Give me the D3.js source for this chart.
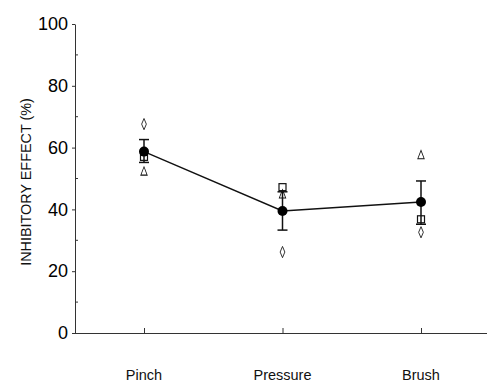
<!DOCTYPE html>
<html>
<head>
<meta charset="utf-8">
<script src="https://cdn.jsdelivr.net/npm/d3@7"></script>
<style>
  body { margin: 0; background: #fff; }
  svg { display: block; font-family: "Liberation Sans", Arial, sans-serif; }
</style>
</head>
<body>
<div id="chart"></div>
<script>
    var w = 487;
    var h = 382;

    var categories = ['Pinch', 'Pressure', 'Brush'];
    var means = [58.7, 39.5, 42.4];
    var errLow = [55.2, 33.3, 35.2];
    var errHigh = [62.6, 45.7, 49.2];
    var squares = [57.0, 47.2, 36.8];
    var triangles = [52.0, 44.6, 57.3];
    var diamonds = [67.6, 26.2, 32.6];
    var yTicks = [0, 20, 40, 60, 80, 100];
    var yMinor = [10, 30, 50, 70, 90];

    var x = d3.scalePoint()
              .domain(categories)
              .range([144, 421]);
    var y = d3.scaleLinear()
              .domain([0, 100])
              .range([333, 24]);

    var svg = d3.select('#chart').append('svg')
                .attr('width', w)
                .attr('height', h);

    // y axis: major ticks stick out left, minor ticks inside
    var yAxis = d3.axisLeft(y)
                  .tickValues(yTicks)
                  .tickSizeInner(3)
                  .tickSizeOuter(0)
                  .tickPadding(4);
    var gy = svg.append('g')
        .attr('transform', 'translate(75,0)')
        .call(yAxis);
    gy.select('.domain').attr('stroke', '#333');
    gy.selectAll('.tick line').attr('stroke', '#333');
    gy.selectAll('.tick text')
        .attr('font-size', 18)
        .attr('fill', '#000');
    gy.selectAll('.minor')
        .data(yMinor)
        .enter().append('line')
        .attr('class', 'minor')
        .attr('x1', 0).attr('x2', 3)
        .attr('y1', function(d){ return y(d); })
        .attr('y2', function(d){ return y(d); })
        .attr('stroke', '#333');

    // x axis
    var xAxis = d3.axisTop(x)
                  .tickSizeInner(5)
                  .tickSizeOuter(0)
                  .tickFormat('');
    var gx = svg.append('g')
        .attr('transform', 'translate(0,' + y(0) + ')')
        .call(xAxis);
    gx.select('.domain').attr('d', 'M75,0.5H487').attr('stroke', '#333');
    gx.selectAll('.tick line').attr('stroke', '#333');

    svg.selectAll('.xlab')
        .data(categories)
        .enter().append('text')
        .attr('class', 'xlab')
        .attr('x', function(d){ return x(d); })
        .attr('y', 380)
        .attr('text-anchor', 'middle')
        .attr('font-size', 14.5)
        .attr('fill', '#111')
        .text(function(d){ return d; });

    svg.append('text')
        .attr('transform', 'translate(31,182) rotate(-90)')
        .attr('text-anchor', 'middle')
        .attr('font-size', 14.4)
        .attr('fill', '#111')
        .text('INHIBITORY EFFECT (%)');

    // individual points
    var sq = 7;
    svg.selectAll('.sq')
        .data(squares)
        .enter().append('rect')
        .attr('x', function(d, i){ return x(categories[i]) - sq / 2; })
        .attr('y', function(d){ return y(d) - sq / 2; })
        .attr('width', sq).attr('height', sq)
        .attr('fill', 'none')
        .attr('stroke', '#111')
        .attr('stroke-width', 1.2);

    var tri = d3.symbol().type(d3.symbolTriangle).size(28);
    svg.selectAll('.tri')
        .data(triangles)
        .enter().append('path')
        .attr('d', tri)
        .attr('transform', function(d, i){
            return 'translate(' + [x(categories[i]), y(d)] + ') scale(0.8,1.2)';
        })
        .attr('fill', 'none')
        .attr('stroke', '#111')
        .attr('stroke-width', 0.9);

    var dia = d3.symbol().type(d3.symbolDiamond).size(30);
    svg.selectAll('.dia')
        .data(diamonds)
        .enter().append('path')
        .attr('d', dia)
        .attr('transform', function(d, i){
            return 'translate(' + [x(categories[i]), y(d)] + ') scale(0.8,1.1)';
        })
        .attr('fill', 'none')
        .attr('stroke', '#111')
        .attr('stroke-width', 0.9);

    // error bars
    var eb = svg.selectAll('.eb')
        .data(categories)
        .enter().append('g')
        .attr('class', 'eb')
        .attr('stroke', '#111')
        .attr('stroke-width', 1.5);
    eb.append('line')
        .attr('x1', function(d){ return x(d); })
        .attr('x2', function(d){ return x(d); })
        .attr('y1', function(d, i){ return y(errLow[i]); })
        .attr('y2', function(d, i){ return y(errHigh[i]); });
    eb.append('line')
        .attr('x1', function(d){ return x(d) - 5; })
        .attr('x2', function(d){ return x(d) + 5; })
        .attr('y1', function(d, i){ return y(errHigh[i]); })
        .attr('y2', function(d, i){ return y(errHigh[i]); });
    eb.append('line')
        .attr('x1', function(d){ return x(d) - 5; })
        .attr('x2', function(d){ return x(d) + 5; })
        .attr('y1', function(d, i){ return y(errLow[i]); })
        .attr('y2', function(d, i){ return y(errLow[i]); });

    // mean line and dots
    var line = d3.line()
        .x(function(d, i){ return x(categories[i]); })
        .y(function(d){ return y(d); });
    svg.append('path')
        .datum(means)
        .attr('d', line)
        .attr('fill', 'none')
        .attr('stroke', '#111')
        .attr('stroke-width', 1.4);
    svg.selectAll('.mean')
        .data(means)
        .enter().append('circle')
        .attr('cx', function(d, i){ return x(categories[i]); })
        .attr('cy', function(d){ return y(d); })
        .attr('r', 5)
        .attr('fill', '#000');
</script>
</body>
</html>
